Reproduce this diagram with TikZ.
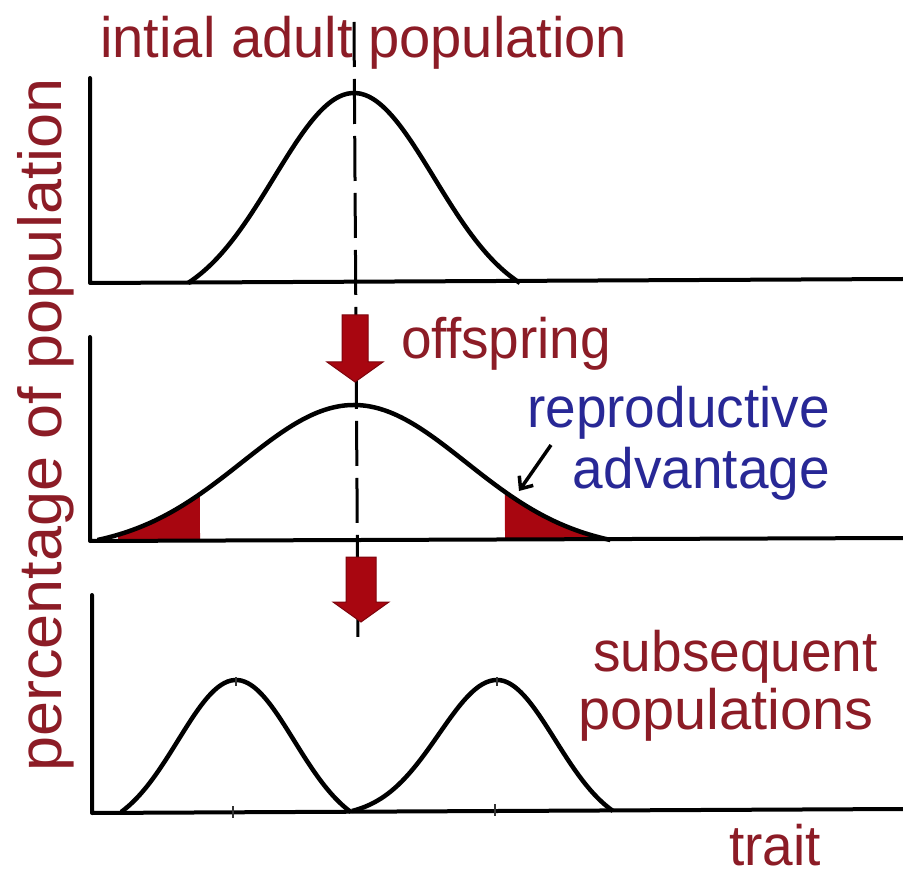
\documentclass[tikz,border=0pt]{standalone}
\usepackage{fontspec}
\setmainfont{Liberation Sans}
\usetikzlibrary{arrows.meta}
\definecolor{txtred}{RGB}{140,28,38}
\definecolor{txtblue}{RGB}{40,40,150}
\definecolor{arrred}{RGB}{168,6,16}
\begin{document}
\begin{tikzpicture}[x=1pt,y=-1pt,
  declare function={gss(\t,\T)=(exp(-\t*\t/2)-exp(-\T*\T/2))/(1-exp(-\T*\T/2));},
  lbl/.style={inner sep=0pt, text=txtred, xscale=0.965, font=\fontsize{57}{62}\selectfont},
  bluelbl/.style={lbl, text=txtblue},
  axisline/.style={line width=4pt, line cap=round, line join=round},
  curve/.style={line width=4.5pt, line join=round},
  bigarrow/.style={fill=arrred, draw=arrred!75!black, line width=1pt, line join=miter},
  midline/.style={line width=3pt, dash pattern=on 45pt off 12pt},
  shade/.style={fill=arrred},
  tick/.style={line width=2pt, black!80}
]
\useasboundingbox (0,0) rectangle (903,877);
\fill[white] (0,0) rectangle (903,877);

% central dashed line
\coordinate (dtop) at (354,22);
\coordinate (dbot) at (358,645);
\draw[midline] (dtop) -- (dbot);

% ---------- panel 1 ----------
\coordinate (a1) at (90,78);
\coordinate (o1) at (90,283);
\coordinate (e1) at (903,279);
\draw[axisline] (a1) -- (o1) -- (e1);
\draw[curve] plot[domain=-2.075:2.075, samples=80, smooth] ({354+80*\x},{283-190*gss(\x,2.075)});

% ---------- panel 2 ----------
\fill[shade] plot[domain=-2.107:-1.375, samples=30, smooth] ({354+112*\x},{541-135*gss(\x,2.29)}) -- (200,541) -- (118,541) -- cycle;
\fill[shade] plot[domain=1.348:2.107, samples=30, smooth] ({354+112*\x},{540-135*gss(\x,2.29)}) -- (590,540) -- (505,540) -- cycle;
\coordinate (a2) at (90,337);
\coordinate (o2) at (90,541);
\coordinate (e2) at (903,538);
\draw[axisline] (a2) -- (o2) -- (e2);
\draw[curve] plot[domain=-2.29:2.29, samples=90, smooth] ({354+112*\x},{540-135*gss(\x,2.29)});

% ---------- panel 3 ----------
\coordinate (a3) at (92,595);
\coordinate (o3) at (92,813);
\coordinate (e3) at (903,809);
\draw[axisline] (a3) -- (o3) -- (e3);
\draw[curve] plot[domain=-1.98:1.98, samples=70, smooth] ({236+58*\x},{812-132*gss(\x,1.98)});
\draw[curve] plot[domain=-2.5:0, samples=50, smooth] ({497+58*\x},{811-131*gss(\x,2.5)})
   -- plot[domain=0:2.0, samples=40, smooth] ({497+58*\x},{811-131*gss(\x,2.0)});
\draw[tick] (233,806) -- (233,818);
\draw[tick] (495,804) -- (495,816);
\draw[tick, line width=1.2pt] (236,677) -- (236,686);
\draw[tick, line width=1.2pt] (497,677) -- (497,686);

% ---------- big red arrows ----------
\draw[bigarrow] (342,315) -- (368,315) -- (368,362) -- (383,362) -- (355,382) -- (327,362) -- (342,362) -- cycle;
\draw[bigarrow] (346,557) -- (376,557) -- (376,602) -- (389,602) -- (361,622) -- (333,602) -- (346,602) -- cycle;

% ---------- labels ----------
\node[lbl, xscale=1.02, anchor=base west] (title) at (100,58) {intial adult population};
\node[lbl, anchor=base west] (off) at (401,359) {offspring};
\node[bluelbl, anchor=base east] (rep) at (830,428) {reproductive};
\node[bluelbl, anchor=base east] (adv) at (830,488) {advantage};
\node[lbl, anchor=base east] (subs) at (878,671) {subsequent};
\node[lbl, xscale=1.05, anchor=base east] (pops) at (874,729) {populations};
\node[lbl, anchor=base west] (trait) at (729,865) {trait};
\node[lbl, xscale=1, font=\fontsize{63}{66}\selectfont, rotate=90, anchor=base] (ylab) at (61,425) {percentage of population};

% pointer to the shaded tail
\coordinate (pstart) at (551,445);
\coordinate (pend) at (519,491);
\draw[line width=3.5pt, -{Straight Barb[length=10pt,width=17pt]}] (pstart) -- (pend);
\end{tikzpicture}
\end{document}
